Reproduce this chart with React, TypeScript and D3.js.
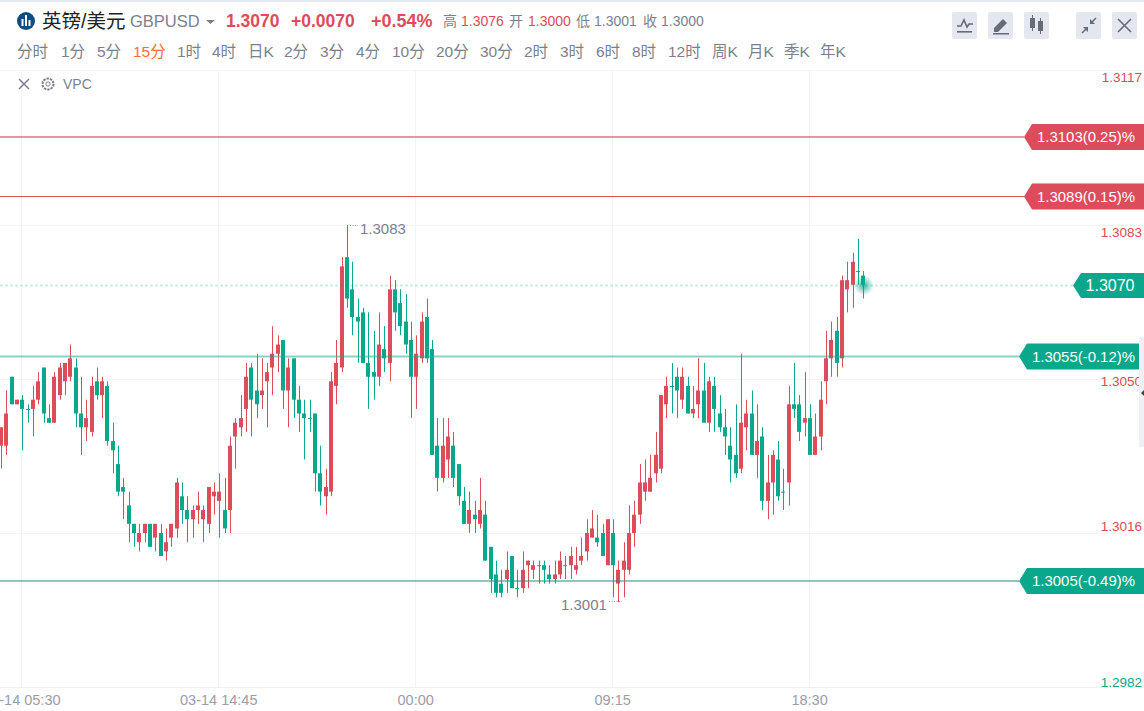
import React from 'react';
import * as d3 from 'd3';

// Prices are stored as pips above BASE (1.3000 + v * 0.0001); the first bar has index -4.
const BASE = 1.3;
const PIP = 0.0001;
const FIRST_INDEX = -4;
const opens = [
  35,35,50,44,45,43,43,45,52,41, 40,46,49,50,52,42,39,38,49,46,
  48,36,31,26,22,18,14,16,18,15, 16,12,15,17,24,21,19,21,19,18,
  24,23,21,21,37,39,43,52,47,46, 49,52,55,58,47,54,45,42,41,42,
  29,24,25,48,52,76,69,63,64,53, 51,50,56,53,69,66,62,58,50,54,
  63,56,35,28,32,35,31,23,18,20, 18,20,13,7,5,6,11,4,4,9,
  8,9,9,7,6,7,9,9,8,10, 12,15,15,16,9,16,5,8,8,16,
  20,25,25,29,30,44,48,50,45,48, 42,44,47,40,48,42,39,35,33,30,
  39,42,33,37,23,27,32,25,27,44, 44,40,41,33,37,49,54,60,54,69,
  70,73,72,
];
const closes = [
  39,42,44,45,43,43,45,49,42,40, 50,52,53,54,42,39,41,48,46,49,
  36,34,25,25,18,16,16,18,13,18, 11,14,18,27,21,19,21,22,21,26,
  25,25,17,35,40,41,50,45,44,47, 51,55,57,47,52,45,42,41,41,29,
  25,26,49,53,74,67,63,62,53,50, 50,57,54,69,64,61,57,50,55,62,
  54,33,28,35,37,28,24,18,21,19, 21,10,6,3,3,8,4,4,8,10,
  9,9,8,6,7,10,9,11,9,11, 16,17,14,11,19,9,8,10,16,20,
  27,27,28,33,46,48,48,47,50,42, 43,47,40,49,43,39,37,32,29,40,
  42,33,36,23,27,33,24,25,44,43, 38,41,33,37,45,54,58,53,71,71,
  75,73,70,
];
const highs = [
  39,47,50,45,46,44,48,51,52,44, 51,53,53,57,54,50,45,50,52,50,
  49,40,35,28,25,18,18,18,18,18, 18,17,18,28,27,24,22,25,22,26,
  27,29,28,37,41,46,53,53,55,54, 53,61,59,58,54,54,48,45,45,42,
  35,30,51,58,76,83,75,67,65,64, 60,64,61,72,71,69,68,62,59,64,
  67,58,41,41,41,38,31,26,25,23, 28,23,13,10,8,12,11,8,12,10,
  10,10,10,9,10,12,11,13,13,15, 19,21,20,18,19,19,10,14,22,23,
  31,32,33,38,46,50,53,52,52,50, 48,54,53,50,50,46,43,39,44,55,
  45,47,44,39,33,34,36,30,48,53, 46,51,44,42,49,60,62,63,72,75,
  77,80,73,
];
const lows = [
  30,33,44,44,34,40,37,44,40,40, 40,45,46,49,39,33,36,37,45,41,
  35,29,24,19,14,13,12,14,13,12, 11,10,13,15,18,14,15,18,14,16,
  20,15,16,16,30,37,38,37,41,43, 39,46,51,43,39,41,38,32,38,25,
  22,20,24,44,51,65,59,53,53,43, 45,48,51,49,60,59,55,41,43,53,
  53,33,25,27,28,26,22,18,16,16, 17,10,3,2,2,3,4,2,3,4,
  6,5,5,5,5,6,6,6,7,9, 10,15,13,11,9,2,1,2,7,13,
  18,23,25,27,29,41,42,41,43,42, 41,41,40,38,38,38,33,27,28,29,
  34,33,28,21,19,20,23,21,22,41, 36,37,33,33,34,44,50,50,52,64,
  65,70,67,
];

const timeTickIndex = [0, 37, 74, 111, 148];
const timeTickLabels = ['03-14 05:30', '03-14 14:45', '00:00', '09:15', '18:30'];
const gridPrices = [1.31165, 1.3083, 1.30495, 1.3016];
const priceTickLabels = ['1.3117', '1.3083', '1.3050', '1.3016', '1.2982'];
const priceTickY = [82, 237, 386, 531, 687];
const priceTickUp = [true, true, true, true, false];
const levelPrices = [1.31021, 1.30891, 1.30545, 1.30056];
const levelLabels = ['1.3103(0.25)%', '1.3089(0.15)%', '1.3055(-0.12)%', '1.3005(-0.49)%'];
const periods = ['分时','1分','5分','15分','1时','4时','日K','2分','3分','4分','10分','20分','30分','2时','3时','6时','8时','12时','周K','月K','季K','年K'];
const periodX = [17,61,97,133,177,212,248,284,320,356,392,436,480,524,560,596,632,668,712,748,784,820];
const lastPrice = 1.30699;

const RED = '#dc4c5a';
const GREEN = '#0ba78c';
const GRAY = '#7b7f8e';
const FONT = '"Liberation Sans", Arial, "Noto Sans CJK SC", sans-serif';
const GRID = '#f3f4f6';

const x = d3.scaleLinear().domain([61, 157]).range([347.5, 858.5]);
const y = d3.scaleLinear().domain([1.3083, 1.3001]).range([225, 602]);
const px = (v: number) => BASE + v * PIP;
const crisp = (v: number) => Math.round(v - 0.5) + 0.5;

function Tag({ yc, left, right, fill, text, h = 26 }: any) {
  const t = yc - h / 2, b = yc + h / 2;
  return (
    <g>
      <path d={`M${left},${yc}L${left + 8},${t}H${right}V${b}H${left + 8}Z`} fill={fill} />
      <text x={left + 13} y={yc + 5} fill="#fff" fontSize={15} textLength={text.includes('-') ? 103 : 98} lengthAdjust="spacingAndGlyphs">{text}</text>
    </g>
  );
}

function IconBtn({ bx, children }: any) {
  return (
    <g transform={`translate(${bx},12)`}>
      <rect width={25} height={27} rx={2} fill="#e4e7ef" />
      {children}
    </g>
  );
}

export default function App() {
  const tagColors = [RED, RED, GREEN, GREEN];
  const lineStyles = [
    { stroke: RED, opacity: 0.8, w: 1.3 },
    { stroke: RED, opacity: 1, w: 1 },
    { stroke: GREEN, opacity: 0.5, w: 2 },
    { stroke: '#1a8f7c', opacity: 1, w: 1 },
  ];
  const tagGeom = [[1024, 1144], [1024, 1144], [1019, 1139], [1019, 1144]];
  const levelY = [137, 196.5, 356.5, 581];
  const lastY = 285.5;
  const lastX = x(158);
  return (
    <svg width={1144} height={711} style={{ position: 'absolute', left: 0, top: 0, background: '#fff' }} fontFamily={FONT}>
      <defs>
        <radialGradient id="glow">
          <stop offset="0%" stopColor={GREEN} stopOpacity={0.8} />
          <stop offset="50%" stopColor={GREEN} stopOpacity={0.4} />
          <stop offset="100%" stopColor={GREEN} stopOpacity={0} />
        </radialGradient>
      </defs>
      <rect x={0} y={0} width={1144} height={2} fill="#e6e9f3" />
      <line x1={0} x2={1144} y1={70.5} y2={70.5} stroke={GRID} />
      {/* grid */}
      {gridPrices.slice(1).map((p, i) => (
        <line key={i} x1={0} x2={1144} y1={crisp(y(p))} y2={crisp(y(p))} stroke={GRID} />
      ))}
      {timeTickIndex.map((t, i) => (
        <line key={i} x1={crisp(x(t) - 1)} x2={crisp(x(t) - 1)} y1={70} y2={687} stroke={GRID} />
      ))}
      <line x1={0} x2={1144} y1={687.5} y2={687.5} stroke="#eeeff2" />

      {/* candles */}
      {opens.map((o, i) => {
        const c = closes[i];
        const cx = x(i + FIRST_INDEX);
        const col = c > o ? RED : GREEN;
        const top = y(px(Math.max(o, c)));
        const bot = y(px(Math.min(o, c)));
        const wx = Math.round(cx - 0.5) + 0.5;
        return (
          <g key={i}>
            <line x1={wx} x2={wx} y1={y(px(highs[i]))} y2={y(px(lows[i]))} stroke={col} strokeWidth={1} />
            <rect x={wx - 2.5} y={top} width={4} height={Math.max(bot - top, 1)} fill={col} />
          </g>
        );
      })}

      {/* level lines */}
      {levelPrices.map((p, i) => (
        <line key={i} x1={0} x2={tagGeom[i][0]} y1={levelY[i]} y2={levelY[i]} stroke={lineStyles[i].stroke}
          strokeOpacity={lineStyles[i].opacity} strokeWidth={lineStyles[i].w} data-price={p} />
      ))}
      <line x1={0} x2={1073} y1={lastY} y2={lastY} stroke={GREEN} strokeOpacity={0.22} strokeWidth={2} strokeDasharray="3 2" data-price={lastPrice} />
      <circle cx={lastX} cy={lastY} r={10} fill="url(#glow)" />

      {/* high / low annotations */}
      <line x1={350} x2={358} y1={225.5} y2={225.5} stroke="#9598a8" strokeDasharray="1 1.5" />
      <text x={360} y={234} fontSize={15} fill={GRAY}>1.3083</text>
      <line x1={609} x2={622} y1={601.5} y2={601.5} stroke="#9598a8" strokeDasharray="1 1.5" />
      <text x={561} y={610} fontSize={15} fill={GRAY}>1.3001</text>

      {/* tick labels */}
      {priceTickLabels.map((l, i) => (
        <text key={l} x={1142} y={priceTickY[i]} fontSize={13.5} textAnchor="end" fill={priceTickUp[i] ? RED : GREEN}>{l}</text>
      ))}
      {timeTickIndex.map((t, i) => (
        <text key={t} x={x(t) - 1} y={705} fontSize={14.5} textAnchor="middle" fill="#9a9dad">{timeTickLabels[i]}</text>
      ))}

      {/* tags */}
      {levelLabels.map((l, i) => (
        <Tag key={l} yc={levelY[i]} left={tagGeom[i][0]} right={tagGeom[i][1]} fill={tagColors[i]} text={l} />
      ))}
      <path d={`M1073,285.5L1081,273H1144V298H1081Z`} fill={GREEN} />
      <text x={1110} y={291} fill="#fff" fontSize={16} textAnchor="middle">1.3070</text>

      {/* right-edge panel */}
      <rect x={1139} y={337} width={5} height={110} fill="#eef0f5" />
      <path d="M1144,390L1141,393L1144,396Z" fill="#444" />

      {/* header */}
      <circle cx={26} cy={21} r={9} fill="#0f4c81" />
      <rect x={21.5} y={19} width={2} height={7} fill="#fff" />
      <rect x={25} y={15} width={2} height={11} fill="#fff" />
      <rect x={28.5} y={20} width={2} height={6} fill="#fff" />
      <text x={42} y={28} fontSize={19.5} fill="#222">英镑/美元</text>
      <text x={130} y={27} fontSize={16.5} fill={GRAY}>GBPUSD</text>
      <path d="M206,20h9l-4.5,4z" fill={GRAY} />
      <text x={226} y={27} fontSize={17.5} fontWeight="bold" fill={RED}>1.3070</text>
      <text x={291} y={27} fontSize={17.5} fontWeight="bold" fill={RED}>+0.0070</text>
      <text x={371} y={27} fontSize={18} fontWeight="bold" fill={RED}>+0.54%</text>
      <text x={443} y={26} fontSize={14} fill={GRAY}>高</text>
      <text x={461} y={26} fontSize={14} fill={RED}>1.3076</text>
      <text x={509} y={26} fontSize={14} fill={GRAY}>开</text>
      <text x={528} y={26} fontSize={14} fill={RED}>1.3000</text>
      <text x={576} y={26} fontSize={14} fill={GRAY}>低</text>
      <text x={594} y={26} fontSize={14} fill={GRAY}>1.3001</text>
      <text x={643} y={26} fontSize={14} fill={GRAY}>收</text>
      <text x={661} y={26} fontSize={14} fill={GRAY}>1.3000</text>
      {periods.map((p, i) => (
        <text key={p} x={periodX[i]} y={57} fontSize={15.5} fill={p === '15分' ? '#f5703c' : GRAY}>{p}</text>
      ))}

      {/* buttons */}
      <IconBtn bx={952}>
        <path d="M5,14h4l3,-6l3,7l2,-3h4" fill="none" stroke="#666b78" strokeWidth={1.6} />
        <rect x={5} y={19} width={15} height={1.6} fill="#666b78" />
      </IconBtn>
      <IconBtn bx={988}>
        <path d="M6,16L15,7L19,11L10,20H6Z" fill="#666b78" />
        <rect x={5} y={21} width={16} height={1.5} fill="#666b78" />
      </IconBtn>
      <IconBtn bx={1024}>
        <rect x={6} y={6} width={5} height={10} fill="#666b78" />
        <rect x={8} y={3} width={1} height={16} fill="#666b78" />
        <rect x={14} y={9} width={5} height={10} fill="#666b78" />
        <rect x={16} y={6} width={1} height={16} fill="#666b78" />
      </IconBtn>
      <IconBtn bx={1076}>
        <path d="M6,21L11,16M20,6L15,11" stroke="#666b78" strokeWidth={1.5} />
        <path d="M7,15H12V20ZM19,12H14V7Z" fill="#666b78" />
      </IconBtn>
      <IconBtn bx={1112}>
        <path d="M6,7L19,20M19,7L6,20" stroke="#666b78" strokeWidth={1.6} />
      </IconBtn>

      {/* indicator row */}
      <path d="M19,79L29,89M29,79L19,89" stroke={GRAY} strokeWidth={1.5} />
      <circle cx={48} cy={84} r={5.5} fill="none" stroke={GRAY} strokeWidth={2} strokeDasharray="2.4 1" />
      <circle cx={48} cy={84} r={2.2} fill="none" stroke={GRAY} strokeWidth={1} />
      <text x={63} y={89} fontSize={14} fill={GRAY}>VPC</text>
    </svg>
  );
}
